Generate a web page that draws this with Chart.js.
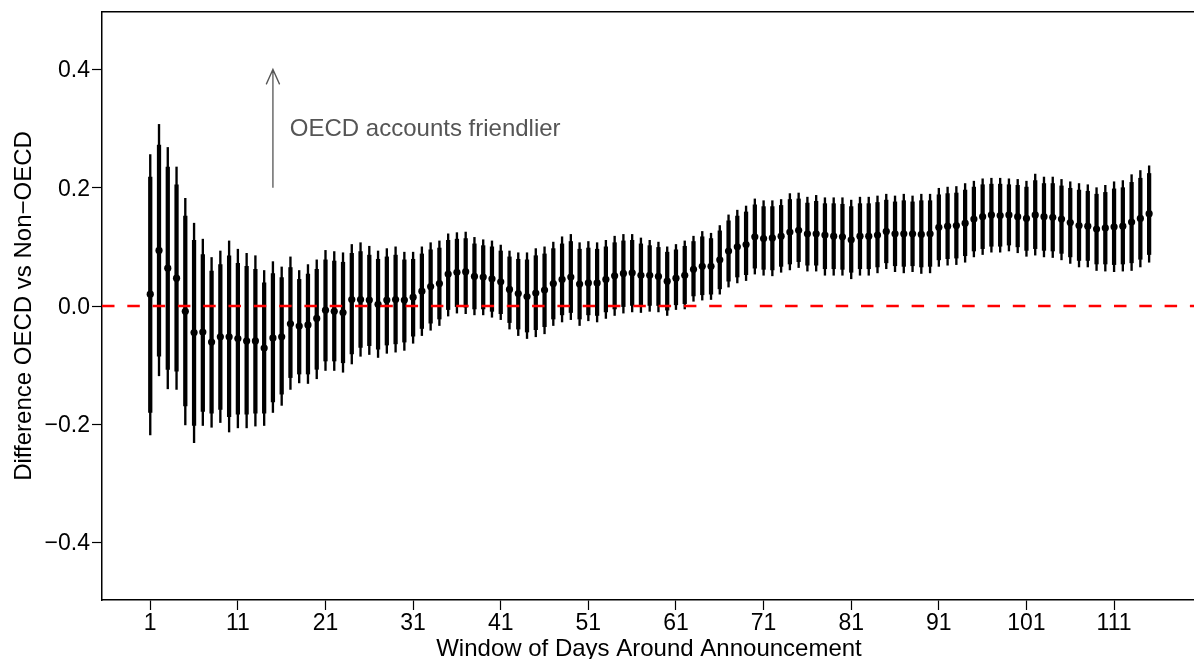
<!DOCTYPE html>
<html><head><meta charset="utf-8">
<script src="https://cdn.jsdelivr.net/npm/chart.js@4.4.1/dist/chart.umd.min.js"></script>
<style>html,body{margin:0;padding:0;background:#fff;overflow:hidden;}#wrap{position:relative;width:1200px;height:659px;}</style>
</head><body><div id="wrap"><canvas id="c" width="1200" height="659"></canvas></div>
<script>
const windows = Array.from({length: 115}, (_, i) => i + 1);
const estimate = [0.020, 0.094, 0.064, 0.047, -0.009, -0.045, -0.044, -0.061, -0.052, -0.052,
 -0.055, -0.059, -0.059, -0.071, -0.054, -0.052, -0.030, -0.034, -0.032, -0.021,
 -0.007, -0.009, -0.011, 0.011, 0.011, 0.010, 0.003, 0.010, 0.011, 0.010,
 0.015, 0.025, 0.033, 0.038, 0.054, 0.057, 0.058, 0.050, 0.049, 0.046,
 0.041, 0.028, 0.021, 0.016, 0.022, 0.027, 0.038, 0.045, 0.049, 0.037,
 0.039, 0.039, 0.045, 0.051, 0.055, 0.056, 0.052, 0.052, 0.050, 0.042,
 0.047, 0.052, 0.062, 0.067, 0.067, 0.078, 0.093, 0.100, 0.104, 0.117,
 0.114, 0.115, 0.118, 0.125, 0.128, 0.122, 0.122, 0.120, 0.118, 0.117,
 0.112, 0.118, 0.118, 0.120, 0.126, 0.122, 0.122, 0.122, 0.121, 0.122,
 0.133, 0.135, 0.136, 0.140, 0.147, 0.151, 0.154, 0.153, 0.154, 0.151,
 0.148, 0.154, 0.151, 0.150, 0.147, 0.141, 0.136, 0.135, 0.130, 0.132,
 0.134, 0.135, 0.142, 0.148, 0.156];
const lo95 = [-0.218, -0.118, -0.140, -0.141, -0.201, -0.231, -0.202, -0.205, -0.197, -0.213,
 -0.206, -0.206, -0.203, -0.202, -0.180, -0.168, -0.141, -0.130, -0.131, -0.123,
 -0.109, -0.109, -0.112, -0.098, -0.085, -0.082, -0.087, -0.080, -0.078, -0.075,
 -0.063, -0.050, -0.041, -0.033, -0.017, -0.012, -0.013, -0.015, -0.015, -0.019,
 -0.023, -0.039, -0.050, -0.055, -0.052, -0.047, -0.033, -0.027, -0.023, -0.033,
 -0.025, -0.027, -0.021, -0.016, -0.012, -0.010, -0.011, -0.009, -0.010, -0.016,
 -0.006, -0.005, 0.008, 0.010, 0.011, 0.020, 0.032, 0.039, 0.043, 0.054,
 0.052, 0.051, 0.057, 0.061, 0.065, 0.059, 0.059, 0.052, 0.052, 0.052,
 0.046, 0.052, 0.052, 0.056, 0.063, 0.058, 0.056, 0.058, 0.055, 0.056,
 0.067, 0.069, 0.070, 0.074, 0.083, 0.087, 0.091, 0.091, 0.093, 0.090,
 0.084, 0.086, 0.083, 0.082, 0.078, 0.072, 0.066, 0.066, 0.060, 0.059,
 0.058, 0.059, 0.060, 0.066, 0.074];
const hi95 = [0.256, 0.307, 0.268, 0.235, 0.182, 0.140, 0.113, 0.082, 0.093, 0.110,
 0.096, 0.089, 0.085, 0.060, 0.075, 0.066, 0.083, 0.060, 0.070, 0.078,
 0.094, 0.092, 0.090, 0.104, 0.107, 0.101, 0.093, 0.097, 0.100, 0.091,
 0.091, 0.100, 0.107, 0.110, 0.122, 0.124, 0.125, 0.116, 0.112, 0.110,
 0.103, 0.093, 0.090, 0.090, 0.097, 0.100, 0.108, 0.117, 0.121, 0.107,
 0.109, 0.107, 0.111, 0.118, 0.121, 0.121, 0.115, 0.111, 0.108, 0.100,
 0.104, 0.110, 0.118, 0.126, 0.123, 0.136, 0.154, 0.162, 0.169, 0.181,
 0.178, 0.178, 0.180, 0.190, 0.191, 0.184, 0.187, 0.183, 0.183, 0.183,
 0.179, 0.184, 0.184, 0.186, 0.189, 0.186, 0.189, 0.186, 0.189, 0.189,
 0.199, 0.201, 0.202, 0.207, 0.211, 0.215, 0.216, 0.216, 0.215, 0.214,
 0.211, 0.223, 0.218, 0.218, 0.214, 0.210, 0.207, 0.205, 0.200, 0.204,
 0.210, 0.212, 0.222, 0.229, 0.237];
const lo90 = [-0.180, -0.085, -0.107, -0.110, -0.169, -0.202, -0.178, -0.181, -0.175, -0.187,
 -0.183, -0.183, -0.181, -0.181, -0.162, -0.149, -0.121, -0.115, -0.115, -0.107,
 -0.093, -0.093, -0.096, -0.081, -0.070, -0.067, -0.073, -0.066, -0.064, -0.061,
 -0.051, -0.038, -0.029, -0.022, -0.006, -0.001, -0.002, -0.005, -0.005, -0.009,
 -0.013, -0.028, -0.039, -0.044, -0.040, -0.035, -0.022, -0.015, -0.011, -0.022,
 -0.015, -0.016, -0.010, -0.005, -0.001, 0.001, -0.001, 0.001, 0.000, -0.007,
 0.002, 0.004, 0.017, 0.019, 0.020, 0.029, 0.042, 0.049, 0.053, 0.064,
 0.062, 0.061, 0.067, 0.071, 0.075, 0.069, 0.069, 0.063, 0.063, 0.062,
 0.057, 0.063, 0.063, 0.066, 0.073, 0.068, 0.067, 0.068, 0.066, 0.067,
 0.078, 0.080, 0.081, 0.085, 0.093, 0.097, 0.101, 0.101, 0.103, 0.100,
 0.094, 0.097, 0.094, 0.093, 0.089, 0.083, 0.077, 0.077, 0.071, 0.071,
 0.070, 0.071, 0.073, 0.079, 0.087];
const hi90 = [0.218, 0.272, 0.235, 0.205, 0.152, 0.111, 0.087, 0.059, 0.070, 0.085,
 0.072, 0.067, 0.062, 0.039, 0.055, 0.048, 0.065, 0.045, 0.054, 0.062,
 0.078, 0.076, 0.074, 0.089, 0.092, 0.086, 0.079, 0.083, 0.086, 0.078,
 0.079, 0.088, 0.095, 0.098, 0.111, 0.113, 0.114, 0.105, 0.102, 0.100,
 0.093, 0.083, 0.079, 0.078, 0.085, 0.088, 0.097, 0.105, 0.109, 0.096,
 0.098, 0.096, 0.100, 0.107, 0.110, 0.111, 0.105, 0.102, 0.099, 0.091,
 0.095, 0.101, 0.109, 0.117, 0.114, 0.127, 0.144, 0.152, 0.159, 0.171,
 0.168, 0.168, 0.170, 0.180, 0.181, 0.174, 0.177, 0.173, 0.173, 0.172,
 0.168, 0.173, 0.173, 0.175, 0.179, 0.176, 0.178, 0.176, 0.178, 0.178,
 0.188, 0.190, 0.191, 0.196, 0.201, 0.205, 0.206, 0.206, 0.205, 0.204,
 0.201, 0.212, 0.207, 0.207, 0.203, 0.199, 0.196, 0.194, 0.189, 0.192,
 0.198, 0.200, 0.209, 0.216, 0.224];
const xTicks = [1, 11, 21, 31, 41, 51, 61, 71, 81, 91, 101, 111];
const yTicks = [-0.4, -0.2, 0, 0.2, 0.4];
const yTickLabels = ["\u22120.4", "\u22120.2", "0.0", "0.2", "0.4"];
const xTitle = "Window of Days Around Announcement";
const yTitle = "Difference OECD vs Non\u2212OECD";
const annotText = "OECD accounts friendlier";
const arrowX = 15, arrowFrom = 0.2, arrowTo = 0.4;
const annotX = 16.93, annotY = 0.298;
const refLine = 0;

const xMin = -4.507, xMax = 120.35, yMin = -0.497, yMax = 0.497;
const FONT = '"Liberation Sans", Arial, Helvetica, sans-serif';
Chart.defaults.font.family = FONT;
Chart.defaults.color = '#000';

const annotPlugin = {
  id: 'annot',
  afterDatasetsDraw(chart) {
    const {ctx, scales: {x, y}} = chart;
    const px = x.getPixelForValue(arrowX);
    const y0 = y.getPixelForValue(arrowFrom), y1 = y.getPixelForValue(arrowTo);
    ctx.save();
    ctx.strokeStyle = '#555';
    ctx.lineWidth = 1.3;
    ctx.beginPath();
    ctx.moveTo(px, y0); ctx.lineTo(px, y1);
    ctx.moveTo(px - 6.7, y1 + 15); ctx.lineTo(px, y1); ctx.lineTo(px + 6.7, y1 + 15);
    ctx.stroke();
    ctx.fillStyle = '#555';
    ctx.font = '24px ' + FONT;
    ctx.textBaseline = 'middle';
    ctx.textAlign = 'left';
    ctx.fillText(annotText, x.getPixelForValue(annotX), y.getPixelForValue(annotY));
    ctx.restore();
  }
};

new Chart(document.getElementById('c'), {
  type: 'bar',
  data: {
    datasets: [
      {type: 'line', data: [{x: xMin, y: refLine}, {x: xMax, y: refLine}], borderColor: '#ff0000',
       borderWidth: 2.7, borderDash: [12.5, 12.8], pointRadius: 0, order: 0},
      {type: 'scatter', data: windows.map((w, i) => ({x: w, y: estimate[i]})), pointRadius: 3.6,
       pointBackgroundColor: '#000', pointBorderWidth: 0, borderWidth: 0, order: 1},
      {type: 'bar', data: windows.map((w, i) => ({x: w, y: [lo90[i], hi90[i]]})), backgroundColor: '#000',
       barThickness: 3.6, grouped: false, borderWidth: 0, order: 2},
      {type: 'bar', data: windows.map((w, i) => ({x: w, y: [lo95[i], hi95[i]]})), backgroundColor: '#000',
       barThickness: 1.7, grouped: false, borderWidth: 0, order: 3}
    ]
  },
  options: {
    responsive: false, animation: false,
    layout: {padding: {top: 12, right: 3, left: 0, bottom: 0}},
    plugins: {legend: {display: false}, tooltip: {enabled: false}},
    scales: {
      x: {
        type: 'linear', position: 'bottom', min: xMin, max: xMax, offset: false,
        afterBuildTicks: s => { s.ticks = xTicks.map(v => ({value: v})); },
        ticks: {font: {size: 23}, padding: 0, maxRotation: 0, autoSkip: false, callback: v => String(v)},
        grid: {drawOnChartArea: false, offset: false, tickLength: 10, tickColor: '#000', tickWidth: 1.2},
        border: {display: true, color: '#000', width: 1.5},
        title: {display: true, text: xTitle, font: {size: 24, lineHeight: 0.8}, padding: {top: 0, bottom: 0}},
        afterFit: s => { s.height = 59; s.paddingLeft = 0; s.paddingRight = 0; }
      },
      x2: {
        type: 'linear', position: 'top', min: xMin, max: xMax, offset: false,
        ticks: {display: false},
        grid: {drawOnChartArea: false, drawTicks: false, offset: false},
        border: {display: true, color: '#000', width: 1.5},
        afterFit: s => { s.height = 0; s.paddingLeft = 0; s.paddingRight = 0; }
      },
      y: {
        type: 'linear', position: 'left', min: yMin, max: yMax,
        afterBuildTicks: s => { s.ticks = yTicks.map(v => ({value: v})); },
        ticks: {font: {size: 23, lineHeight: 1}, padding: 2, labelOffset: 1.5, callback: (v, i) => yTickLabels[i]},
        grid: {drawOnChartArea: false, tickLength: 10, tickColor: '#000', tickWidth: 1.2},
        border: {display: true, color: '#000', width: 1.5},
        title: {display: true, text: yTitle, font: {size: 24, lineHeight: 1.2}, padding: {top: 9.6, bottom: 0}},
        afterFit: s => { s.width = 102; s.paddingTop = 0; s.paddingBottom = 0; }
      }
    }
  },
  plugins: [annotPlugin]
});
</script>
</body></html>
